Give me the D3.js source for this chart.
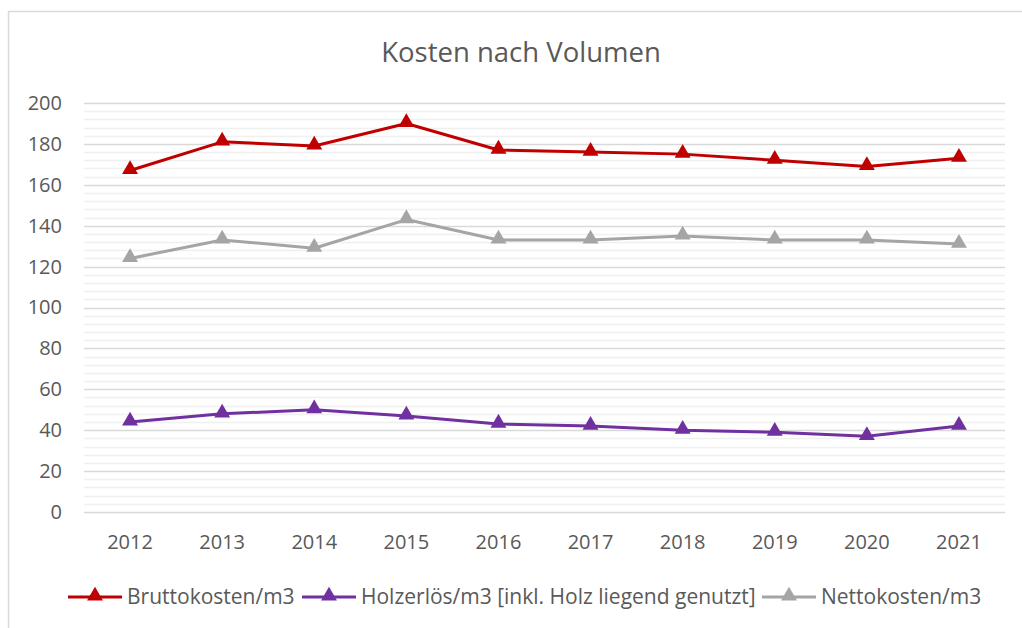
<!DOCTYPE html>
<html>
<head>
	<meta charset="utf-8">
	<script src="https://d3js.org/d3.v7.min.js"></script>
	<style>
		body { margin: 0; background: #fff; }
		text { font-family: "Open Sans", Lato, sans-serif; fill: #595959; }
	</style>
</head>
<body>
	<div id="chart"></div>
	<script type="text/javascript">
		"use strict";

		// values
		var years = ["2012", "2013", "2014", "2015", "2016", "2017", "2018", "2019", "2020", "2021"];
		var brutto = [167, 181, 179, 190, 177, 176, 175, 172, 169, 173];
		var holz = [44, 48, 50, 47, 43, 42, 40, 39, 37, 42];
		var netto = [124, 133, 129, 143, 133, 133, 135, 133, 133, 131];
		var yTicks = [0, 20, 40, 60, 80, 100, 120, 140, 160, 180, 200];

		var series = [
			{ name: "Bruttokosten/m3", values: brutto, color: "#C00000" },
			{ name: "Holzerlös/m3 [inkl. Holz liegend genutzt]", values: holz, color: "#7030A0" },
			{ name: "Nettokosten/m3", values: netto, color: "#A5A5A5" }
		];

		var width = 1022, height = 628;
		var plot = { left: 84, right: 1005, top: 103, bottom: 512 };

		var svg = d3.select("#chart")
			.append("svg")
			.attr("width", width)
			.attr("height", height);

		// chart frame
		svg.append("rect")
			.attr("x", 8.5).attr("y", 11.5)
			.attr("width", 1030).attr("height", 640)
			.attr("fill", "none")
			.attr("stroke", "#d9d9d9")
			.attr("stroke-width", 1.5);

		var x = d3.scaleBand().domain(years).range([plot.left, plot.right]);
		var y = d3.scaleLinear().domain([0, 200]).range([plot.bottom, plot.top]);

		// minor gridlines every 4
		svg.append("g")
			.selectAll("line")
			.data(d3.range(0, 201, 4).filter(function(v){ return v % 20 !== 0; }))
			.enter().append("line")
			.attr("x1", plot.left).attr("x2", plot.right)
			.attr("y1", function(d){ return Math.round(y(d)) + 0.5; })
			.attr("y2", function(d){ return Math.round(y(d)) + 0.5; })
			.attr("stroke", "#f0f0f0")
			.attr("stroke-width", 1.5);

		// major gridlines
		svg.append("g")
			.selectAll("line")
			.data(yTicks)
			.enter().append("line")
			.attr("x1", plot.left).attr("x2", plot.right)
			.attr("y1", function(d){ return Math.round(y(d)) + 0.5; })
			.attr("y2", function(d){ return Math.round(y(d)) + 0.5; })
			.attr("stroke", "#d9d9d9")
			.attr("stroke-width", 1.5);

		// y axis labels
		var yAxis = svg.append("g")
			.attr("transform", "translate(" + (plot.left - 22) + ",0)")
			.call(d3.axisLeft(y).tickValues(yTicks).tickSize(0).tickPadding(0));
		yAxis.select(".domain").remove();
		yAxis.selectAll("text")
			.style("font-size", "20px")
			.attr("fill", "#595959");

		// x axis labels
		var xAxis = svg.append("g")
			.attr("transform", "translate(0," + (plot.bottom + 23) + ")")
			.call(d3.axisBottom(x).tickSize(0).tickPadding(0));
		xAxis.select(".domain").remove();
		xAxis.selectAll("text")
			.style("font-size", "20px")
			.attr("fill", "#595959");

		// title
		svg.append("text")
			.attr("x", 521)
			.attr("y", 62)
			.style("text-anchor", "middle")
			.style("font-size", "27.5px")
			.text("Kosten nach Volumen");

		var line = d3.line()
			.x(function(d, i){ return x(years[i]) + x.bandwidth() / 2; })
			.y(function(d){ return y(d); });

		var tri = d3.symbol().type(d3.symbolTriangle).size(110);

		series.forEach(function(s) {
			svg.append("path")
				.datum(s.values)
				.attr("d", line)
				.attr("fill", "none")
				.attr("stroke", s.color)
				.attr("stroke-width", 3)
				.attr("stroke-linejoin", "round");

			svg.append("g")
				.selectAll("path")
				.data(s.values)
				.enter().append("path")
				.attr("d", tri)
				.attr("transform", function(d, i){
					return "translate(" + (x(years[i]) + x.bandwidth() / 2) + "," + (y(d) - 1) + ")";
				})
				.attr("fill", s.color);
		});

		// legend
		var legendX = [68, 302, 762];
		var legendY = 597;
		series.forEach(function(s, i) {
			var g = svg.append("g").attr("transform", "translate(" + legendX[i] + "," + legendY + ")");
			g.append("line")
				.attr("x1", 0).attr("x2", 54)
				.attr("y1", 0).attr("y2", 0)
				.attr("stroke", s.color)
				.attr("stroke-width", 3);
			g.append("path")
				.attr("d", tri)
				.attr("transform", "translate(27,-1)")
				.attr("fill", s.color);
			g.append("text")
				.attr("x", 59)
				.attr("y", 0)
				.attr("dy", "0.35em")
				.style("font-size", "21px")
				.text(s.name);
		});
	</script>
</body>
</html>
